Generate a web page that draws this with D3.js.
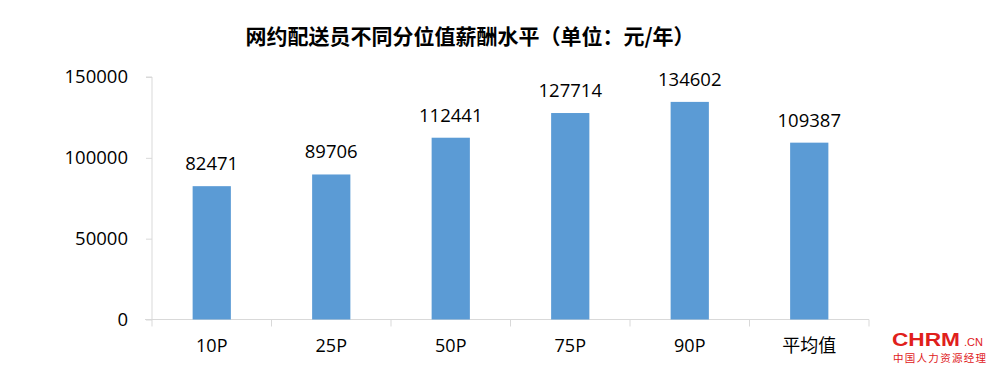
<!DOCTYPE html>
<html><head><meta charset="utf-8">
<script src="https://cdn.jsdelivr.net/npm/d3@7"></script>
<style>body{margin:0;background:#fff}svg{display:block}</style>
</head><body>
<svg id="c" width="1000" height="376"></svg>
<script>
const categories = ["10P","25P","50P","75P","90P","平均值"];
const values = [82471, 89706, 112441, 127714, 134602, 109387];
const yTicks = [0, 50000, 100000, 150000];
const title = "网约配送员不同分位值薪酬水平（单位：元/年）";

const svg = d3.select("#c");
const font = "'Open Sans','Noto Sans CJK SC',sans-serif";
const pL = 152, pR = 869, pT = 77, pB = 319.5;

const x = d3.scaleBand().domain(categories).range([pL, pR]).paddingInner(0.68).paddingOuter(0.34);
const y = d3.scaleLinear().domain([0, 150000]).range([pB, pT]);

svg.append("text").attr("x", 470).attr("y", 44).attr("text-anchor", "middle")
  .attr("font-family", "'Noto Sans CJK SC',sans-serif").attr("font-weight", "bold")
  .attr("font-size", 21).attr("fill", "#000").text(title);

// y axis
const ya = svg.append("g").attr("transform", `translate(${pL},0)`)
  .call(d3.axisLeft(y).tickValues(yTicks).tickSize(6).tickPadding(18).tickFormat(d3.format("d")));
ya.select(".domain").attr("stroke", "#d9d9d9").attr("d", `M-6,${pT}H0V${pB}`);
ya.selectAll(".tick line").attr("stroke", "#d9d9d9");
ya.selectAll(".tick text").attr("font-family", font).attr("font-size", 18.5).attr("fill", "#000");

// x axis
const xb = d3.scaleBand().domain(categories).range([pL, pR]);
const xa = svg.append("g").attr("transform", `translate(0,${pB})`)
  .call(d3.axisBottom(xb).tickSize(0).tickPadding(20));
xa.select(".domain").attr("stroke", "#d9d9d9").attr("d", `M${pL-7},0H${pR}`);
xa.selectAll(".tick text").attr("font-family", font).attr("font-size", 18).attr("fill", "#000");
xa.selectAll(".bt").data(categories.map((c,i)=>i).concat([categories.length])).enter().append("line")
  .attr("class","bt")
  .attr("x1", i => pL + i * xb.step()).attr("x2", i => pL + i * xb.step())
  .attr("y1", 0).attr("y2", 7).attr("stroke", "#d9d9d9");

// bars
svg.append("g").selectAll("rect").data(values).enter().append("rect")
  .attr("x", (d,i) => x(categories[i])).attr("width", x.bandwidth())
  .attr("y", d => y(d)).attr("height", d => y(0) - y(d))
  .attr("fill", "#5b9bd5");

svg.append("g").selectAll("text").data(values).enter().append("text")
  .attr("x", (d,i) => x(categories[i]) + x.bandwidth()/2)
  .attr("y", d => y(d) - 16).attr("text-anchor", "middle")
  .attr("font-family", font).attr("font-size", 18.5).attr("fill", "#000")
  .text(d => d);

// logo
const logo = svg.append("g");
logo.append("text").attr("x", 892).attr("y", 346).attr("font-family", "'Liberation Sans',Arial,sans-serif")
  .attr("font-weight", "bold").attr("font-size", 19).attr("fill", "#e0201b")
  .attr("textLength", 68).attr("lengthAdjust", "spacingAndGlyphs").text("CHRM");
logo.append("text").attr("x", 964).attr("y", 346).attr("font-family", "'Liberation Sans',Arial,sans-serif")
  .attr("font-size", 11).attr("fill", "#e0201b").text(".CN");
logo.append("text").attr("x", 893).attr("y", 361.5).attr("font-family", "'Noto Sans CJK SC',sans-serif")
  .attr("font-size", 10.5).attr("fill", "#e0201b").attr("textLength", 93).text("中国人力资源经理");
</script>
</body></html>
